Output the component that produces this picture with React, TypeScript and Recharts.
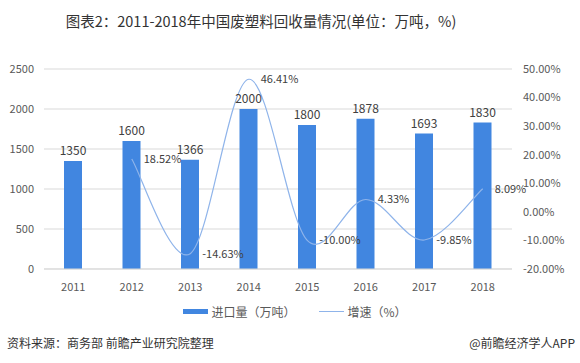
import { ComposedChart, Bar, Line, XAxis, YAxis, CartesianGrid, Legend, LabelList } from 'recharts'

const years = ['2011', '2012', '2013', '2014', '2015', '2016', '2017', '2018']
const volume = [1350, 1600, 1366, 2000, 1800, 1878, 1693, 1830]
const growth: (number | null)[] = [null, 18.52, -14.63, 46.41, -10.0, 4.33, -9.85, 8.09]
const leftTicks = [0, 500, 1000, 1500, 2000, 2500]
const rightTicks = [-20, -10, 0, 10, 20, 30, 40, 50]

const FONT = '"Noto Sans CJK SC", "Noto Sans", sans-serif'
const BAR_COLOR = '#4186e0'
const LINE_COLOR = '#8fb4ea'
const TICK = { fill: '#595959', fontSize: 11, fontFamily: FONT }

// Excel-style smoothed line (Catmull-Rom through each point)
const smoothCurve = (context: any) => {
  let pts: [number, number][] = []
  return {
    areaStart() {},
    areaEnd() {},
    lineStart() {
      pts = []
    },
    lineEnd() {
      if (!pts.length) return
      context.moveTo(pts[0][0], pts[0][1])
      for (let i = 0; i < pts.length - 1; i++) {
        const p0 = pts[Math.max(i - 1, 0)]
        const p1 = pts[i]
        const p2 = pts[i + 1]
        const p3 = pts[Math.min(i + 2, pts.length - 1)]
        context.bezierCurveTo(
          p1[0] + (p2[0] - p0[0]) / 6,
          p1[1] + (p2[1] - p0[1]) / 6,
          p2[0] - (p3[0] - p1[0]) / 6,
          p2[1] - (p3[1] - p1[1]) / 6,
          p2[0],
          p2[1]
        )
      }
    },
    point(x: number, y: number) {
      pts.push([+x, +y])
    },
  }
}

const renderLegend = () => (
  <div style={{ display: 'flex', justifyContent: 'center', alignItems: 'center', fontFamily: FONT, fontSize: 12, color: '#595959', paddingLeft: 10 }}>
    <span style={{ display: 'inline-block', width: 25, height: 5, background: BAR_COLOR, marginRight: 3 }} />
    <span>进口量（万吨）</span>
    <span style={{ display: 'inline-block', width: 25, height: 1, background: LINE_COLOR, marginLeft: 24, marginRight: 3 }} />
    <span>增速（%）</span>
  </div>
)

export default function App() {
  const data = years.map((y, i) => ({ year: y, volume: volume[i], growth: growth[i] }))

  return (
    <div style={{ position: 'absolute', left: 0, top: 0, width: 580, height: 363, background: '#fff', fontFamily: FONT }}>
      <div style={{ position: 'absolute', top: 10, left: 0, width: 522, textAlign: 'center', fontSize: 14.5, color: '#333' }}>
        图表2：2011-2018年中国废塑料回收量情况(单位：万吨，%)
      </div>
      <ComposedChart width={580} height={363} data={data} margin={{ top: 69, right: 0, bottom: 64, left: 0 }}>
        <CartesianGrid yAxisId="left" vertical={false} stroke="#d9d9d9" />
        <XAxis
          dataKey="year"
          axisLine={{ stroke: '#d9d9d9' }}
          tickLine={false}
          tick={TICK}
          tickMargin={8}
        />
        <YAxis
          yAxisId="left"
          width={44}
          domain={[0, 2500]}
          ticks={leftTicks}
          axisLine={false}
          tickLine={false}
          tick={TICK}
          tickMargin={4}
        />
        <YAxis
          yAxisId="right"
          orientation="right"
          width={68}
          domain={[-20, 50]}
          ticks={rightTicks}
          axisLine={false}
          tickLine={false}
          tick={TICK}
          tickMargin={5}
          tickFormatter={(v: number) => `${v.toFixed(2)}%`}
        />
        <Legend verticalAlign="middle" align="center" content={renderLegend} wrapperStyle={{ top: 303, left: 0, width: 580 }} />
        <Bar yAxisId="left" dataKey="volume" name="进口量（万吨）" fill={BAR_COLOR} barSize={18} isAnimationActive={false}>
          <LabelList dataKey="volume" position="top" offset={6} fill="#404040" fontSize={12} fontFamily={FONT} />
        </Bar>
        <Line
          yAxisId="right"
          dataKey="growth"
          name="增速（%）"
          type={smoothCurve as any}
          stroke={LINE_COLOR}
          strokeWidth={1.2}
          dot={false}
          activeDot={false}
          isAnimationActive={false}
        >
          <LabelList
            dataKey="growth"
            position="right"
            offset={12}
            fill="#404040"
            fontSize={11}
            fontFamily={FONT}
            formatter={(v: any) => (v == null ? '' : `${Number(v).toFixed(2)}%`)}
          />
        </Line>
      </ComposedChart>
      <div style={{ position: 'absolute', top: 334, left: 7, fontSize: 12, color: '#333' }}>资料来源：商务部 前瞻产业研究院整理</div>
      <div style={{ position: 'absolute', top: 334, right: 5, fontSize: 12, color: '#333' }}>@前瞻经济学人APP</div>
    </div>
  )
}
